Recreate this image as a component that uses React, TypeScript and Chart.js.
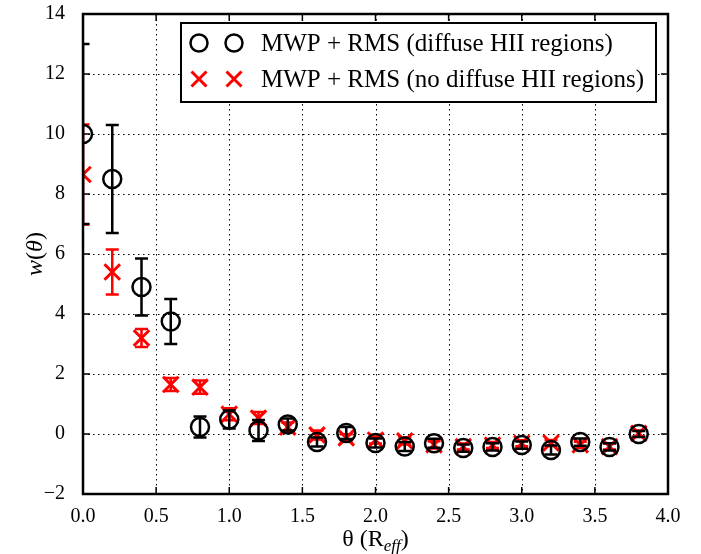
import React, { useEffect, useRef } from "react";
import { Chart, registerables } from "chart.js";

Chart.register(...registerables);

const thetaValues = [0.0, 0.2, 0.4, 0.6, 0.8, 1.0, 1.2, 1.4, 1.6, 1.8, 2.0, 2.2, 2.4, 2.6, 2.8, 3.0, 3.2, 3.4, 3.6, 3.8];
const diffuseW = [10.0, 8.5, 4.9, 3.75, 0.23, 0.48, 0.12, 0.32, -0.27, 0.03, -0.3, -0.42, -0.31, -0.47, -0.43, -0.37, -0.53, -0.27, -0.43, 0.0];
const diffuseErr = [3.0, 1.8, 0.95, 0.75, 0.35, 0.3, 0.35, 0.2, 0.15, 0.2, 0.15, 0.15, 0.15, 0.12, 0.12, 0.12, 0.15, 0.12, 0.12, 0.1];
const noDiffuseW = [8.65, 5.4, 3.2, 1.65, 1.56, 0.66, 0.53, 0.23, -0.03, -0.13, -0.2, -0.23, -0.36, -0.42, -0.37, -0.31, -0.3, -0.36, -0.42, 0.02];
const noDiffuseErr = [1.67, 0.75, 0.3, 0.22, 0.22, 0.2, 0.2, 0.15, 0.15, 0.12, 0.12, 0.12, 0.12, 0.1, 0.1, 0.1, 0.1, 0.1, 0.1, 0.1];

const seriesLabels = ["MWP + RMS (diffuse HII regions)", "MWP + RMS (no diffuse HII regions)"];
const seriesColors = ["#000000", "#ff0000"];
const xTicks = [0, 0.5, 1.0, 1.5, 2.0, 2.5, 3.0, 3.5, 4.0];
const yTicks = [-2, 0, 2, 4, 6, 8, 10, 12, 14];

const SERIF = "'Liberation Serif', 'DejaVu Serif', serif";

const gridPlugin = {
  id: "dottedGrid",
  beforeDatasetsDraw(chart: any) {
    const { ctx, chartArea } = chart;
    const xs = chart.scales.x;
    const ys = chart.scales.y;
    const { left, right, top, bottom } = chartArea;
    ctx.save();
    ctx.strokeStyle = "#000";
    ctx.lineWidth = 1;
    ctx.setLineDash([1.5, 3.5]);
    ctx.beginPath();
    for (const t of xTicks) {
      const px = Math.round(xs.getPixelForValue(t)) + 0.5;
      ctx.moveTo(px, top);
      ctx.lineTo(px, bottom);
    }
    for (const t of yTicks) {
      const py = Math.round(ys.getPixelForValue(t)) + 0.5;
      ctx.moveTo(left, py);
      ctx.lineTo(right, py);
    }
    ctx.stroke();
    ctx.restore();
  },
};

const errorBarPlugin = {
  id: "errorBars",
  beforeDatasetDraw(chart: any, args: any) {
    const i = args.index;
    const errs = i === 0 ? diffuseErr : noDiffuseErr;
    const vals = i === 0 ? diffuseW : noDiffuseW;
    const { ctx, chartArea } = chart;
    const xs = chart.scales.x;
    const ys = chart.scales.y;
    ctx.save();
    ctx.beginPath();
    ctx.rect(chartArea.left, chartArea.top, chartArea.right - chartArea.left, chartArea.bottom - chartArea.top);
    ctx.clip();
    ctx.strokeStyle = seriesColors[i];
    ctx.lineWidth = 2.5;
    for (let k = 0; k < thetaValues.length; k++) {
      const px = xs.getPixelForValue(thetaValues[k]);
      const top = ys.getPixelForValue(vals[k] + errs[k]);
      const bot = ys.getPixelForValue(vals[k] - errs[k]);
      ctx.beginPath();
      ctx.moveTo(px, top);
      ctx.lineTo(px, bot);
      ctx.moveTo(px - 6.5, top);
      ctx.lineTo(px + 6.5, top);
      ctx.moveTo(px - 6.5, bot);
      ctx.lineTo(px + 6.5, bot);
      ctx.stroke();
    }
    ctx.restore();
  },
};

const framePlugin = {
  id: "frameAndLegend",
  afterDraw(chart: any) {
    const { ctx, chartArea } = chart;
    const xs = chart.scales.x;
    const ys = chart.scales.y;
    const { left, right, top, bottom } = chartArea;
    ctx.save();
    ctx.strokeStyle = "#000";
    ctx.lineWidth = 1.5;
    const tl = 7;
    ctx.beginPath();
    for (const t of xTicks) {
      const px = xs.getPixelForValue(t);
      ctx.moveTo(px, bottom);
      ctx.lineTo(px, bottom - tl);
      ctx.moveTo(px, top);
      ctx.lineTo(px, top + tl);
    }
    for (const t of yTicks) {
      const py = ys.getPixelForValue(t);
      ctx.moveTo(left, py);
      ctx.lineTo(left + tl, py);
      ctx.moveTo(right, py);
      ctx.lineTo(right - tl, py);
    }
    ctx.stroke();
    ctx.lineWidth = 2.5;
    ctx.strokeRect(left, top, right - left, bottom - top);

    // legend
    const lx = 181, ly = 23, lw = 475, lh = 79;
    ctx.fillStyle = "#fff";
    ctx.fillRect(lx, ly, lw, lh);
    ctx.lineWidth = 2;
    ctx.strokeStyle = "#000";
    ctx.strokeRect(lx, ly, lw, lh);
    const rows = [43, 79];
    const mx = [199, 234];
    ctx.font = `25px ${SERIF}`;
    ctx.textBaseline = "middle";
    ctx.textAlign = "left";
    for (let r = 0; r < 2; r++) {
      const cy = rows[r];
      ctx.strokeStyle = seriesColors[r];
      for (const x of mx) {
        ctx.beginPath();
        if (r === 0) {
          ctx.lineWidth = 2.5;
          ctx.arc(x, cy, 8.5, 0, Math.PI * 2);
        } else {
          ctx.lineWidth = 3;
          ctx.moveTo(x - 7.5, cy - 7.5);
          ctx.lineTo(x + 7.5, cy + 7.5);
          ctx.moveTo(x + 7.5, cy - 7.5);
          ctx.lineTo(x - 7.5, cy + 7.5);
        }
        ctx.stroke();
      }
      ctx.fillStyle = "#000";
      ctx.fillText(seriesLabels[r], 261, cy + 1);
    }

    // axis titles
    ctx.fillStyle = "#000";
    const xt = "θ (R";
    const sub = "eff";
    const close = ")";
    ctx.textBaseline = "alphabetic";
    const bigFont = `24px ${SERIF}`;
    const subFont = `italic 17px ${SERIF}`;
    ctx.font = bigFont;
    const w1 = ctx.measureText(xt).width;
    const w3 = ctx.measureText(close).width;
    ctx.font = subFont;
    const w2 = ctx.measureText(sub).width;
    const totalW = w1 + w2 + w3;
    const cx = (left + right) / 2;
    let sx = cx - totalW / 2;
    const baseY = 546;
    ctx.font = bigFont;
    ctx.fillText(xt, sx, baseY);
    sx += w1;
    ctx.font = subFont;
    ctx.fillText(sub, sx, baseY + 5);
    sx += w2;
    ctx.font = bigFont;
    ctx.fillText(close, sx, baseY);

    ctx.save();
    ctx.translate(42, (top + bottom) / 2);
    ctx.rotate(-Math.PI / 2);
    const parts: [string, string][] = [["w", `italic 24px ${SERIF}`], ["(", `24px ${SERIF}`], ["θ", `italic 24px ${SERIF}`], [")", `24px ${SERIF}`]];
    let tw = 0;
    for (const [t, f] of parts) { ctx.font = f; tw += ctx.measureText(t).width; }
    let px = -tw / 2;
    for (const [t, f] of parts) {
      ctx.font = f;
      ctx.fillText(t, px, 0);
      px += ctx.measureText(t).width;
    }
    ctx.restore();

    ctx.restore();
  },
};

export default function App() {
  const ref = useRef<HTMLCanvasElement | null>(null);
  useEffect(() => {
    document.body.style.margin = "0";
    const canvas = ref.current;
    if (!canvas) return;
    const chart = new Chart(canvas, {
      type: "scatter",
      data: {
        datasets: [
          {
            label: seriesLabels[0],
            data: thetaValues.map((x, i) => ({ x, y: diffuseW[i] })),
            pointStyle: "circle",
            pointRadius: 9,
            pointBorderWidth: 2.5,
            borderColor: seriesColors[0],
            backgroundColor: "rgba(0,0,0,0)",
            pointHoverRadius: 9,
          },
          {
            label: seriesLabels[1],
            data: thetaValues.map((x, i) => ({ x, y: noDiffuseW[i] })),
            pointStyle: "crossRot",
            pointRadius: 11,
            pointBorderWidth: 3,
            borderColor: seriesColors[1],
            backgroundColor: seriesColors[1],
            pointHoverRadius: 11,
          },
        ],
      },
      options: {
        responsive: false,
        animation: false,
        events: [],
        layout: { padding: { top: 12, right: 33, left: 0, bottom: 0 } },
        plugins: { legend: { display: false }, tooltip: { enabled: false } },
        scales: {
          x: {
            type: "linear",
            min: 0,
            max: 4,
            afterFit: (s: any) => { s.height = 60; s.paddingLeft = 0; s.paddingRight = 0; },
            afterBuildTicks: (s: any) => { s.ticks = xTicks.map((v) => ({ value: v })); },
            ticks: {
              callback: (v: any) => Number(v).toFixed(1),
              color: "#000",
              font: { family: SERIF, size: 20 },
              padding: 3,
              maxRotation: 0,
            },
            grid: { display: false },
            border: { display: false },
          },
          y: {
            type: "linear",
            min: -2,
            max: 14,
            afterFit: (s: any) => { s.width = 83; s.paddingTop = 0; s.paddingBottom = 0; },
            afterBuildTicks: (s: any) => { s.ticks = yTicks.map((v) => ({ value: v })); },
            ticks: {
              callback: (v: any) => (Number(v) < 0 ? "\u2212" + Math.abs(Number(v)) : String(v)),
              color: "#000",
              font: { family: SERIF, size: 20 },
              padding: 10,
            },
            grid: { display: false },
            border: { display: false },
          },
        },
      },
      plugins: [gridPlugin, errorBarPlugin, framePlugin],
    });
    return () => chart.destroy();
  }, []);
  return <canvas ref={ref} width={701} height={554} style={{ display: "block", width: 701, height: 554 }} />;
}
